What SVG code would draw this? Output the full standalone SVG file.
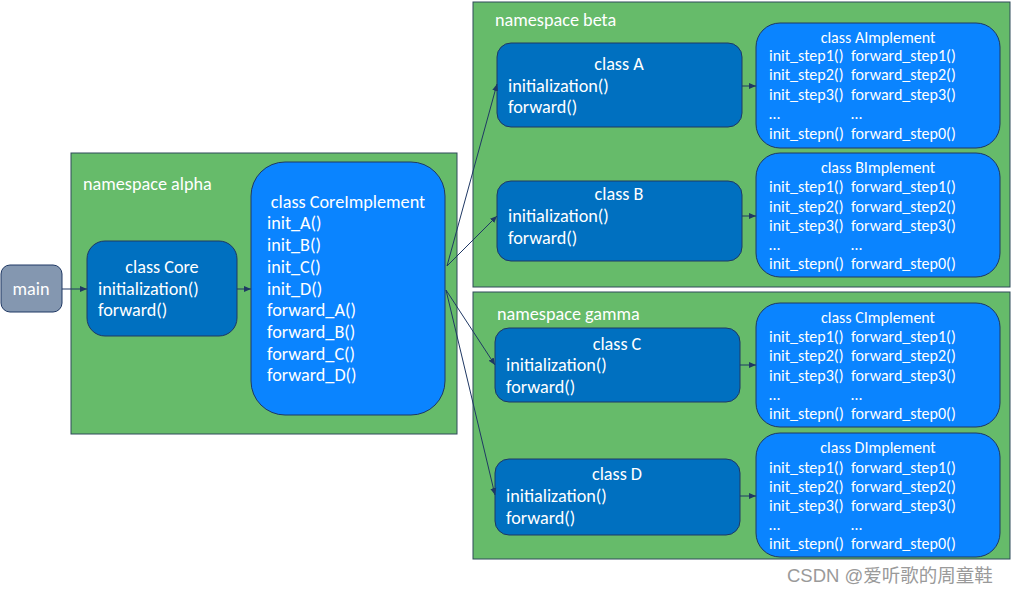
<svg xmlns="http://www.w3.org/2000/svg" width="1013" height="593" viewBox="0 0 1013 593">
<style>
.ns{fill:#66bb6a;stroke:#2f4a5a;stroke-width:1}
.cls{fill:#0070c0;stroke:#1f3864;stroke-width:1}
.impl{fill:#0a84ff;stroke:#1f3864;stroke-width:1}
.main{fill:#8497b0;stroke:#1f3864;stroke-width:1}
text{font-family:Calibri,"Carlito","Open Sans","Liberation Sans",sans-serif;fill:#fff}
.t16{font-size:18.2px}
.t14{font-size:16px}
.c{text-anchor:middle}
.conn{stroke:#1f3864;stroke-width:1;fill:none;marker-end:url(#ah)}
.wm{font-family:"Liberation Sans","Noto Sans CJK SC",sans-serif;font-size:18.5px;fill:#9a9a9a}
</style>
<defs>
<marker id="ah" markerWidth="8" markerHeight="8" refX="7" refY="4" orient="auto" markerUnits="userSpaceOnUse">
<path d="M0,1 L7,4 L0,7 z" fill="#1f3864"/>
</marker>
</defs>
<g id="ns-alpha"><rect class="ns" x="71" y="153" width="386" height="281"/><text class="t16" x="83" y="190">namespace alpha</text></g>
<g id="ns-beta"><rect class="ns" x="473" y="2" width="537" height="285"/><text class="t16" x="495" y="26">namespace beta</text></g>
<g id="ns-gamma"><rect class="ns" x="473" y="292" width="537" height="267"/><text class="t16" x="497" y="320">namespace gamma</text></g>
<g id="main"><rect class="main" x="1" y="265" width="61" height="47" rx="9"/><text class="t16 c" x="31" y="295">main</text></g>
<g id="core"><rect class="cls" x="87" y="241" width="150" height="95" rx="18"/>
<text class="t16 c" x="162" y="273">class Core</text><text class="t16" x="98" y="295">initialization()</text><text class="t16" x="98" y="316">forward()</text></g>
<g id="coreimpl"><rect class="impl" x="251" y="162" width="194" height="253" rx="34"/>
<text class="t16 c" x="348" y="208">class CoreImplement</text>
<text class="t16" x="267" y="229">init_A()</text><text class="t16" x="267" y="251">init_B()</text><text class="t16" x="267" y="273">init_C()</text><text class="t16" x="267" y="295">init_D()</text>
<text class="t16" x="267" y="316">forward_A()</text><text class="t16" x="267" y="338">forward_B()</text><text class="t16" x="267" y="360">forward_C()</text><text class="t16" x="267" y="381">forward_D()</text></g>
<g id="classA"><rect class="cls" x="497" y="43" width="245" height="84" rx="14"/>
<text class="t16 c" x="619" y="70">class A</text><text class="t16" x="508" y="92">initialization()</text><text class="t16" x="508" y="113">forward()</text></g>
<g id="classB"><rect class="cls" x="497" y="181" width="245" height="80" rx="14"/>
<text class="t16 c" x="619" y="200">class B</text><text class="t16" x="508" y="222">initialization()</text><text class="t16" x="508" y="244">forward()</text></g>
<g id="classC"><rect class="cls" x="495" y="328" width="245" height="74" rx="14"/>
<text class="t16 c" x="617" y="350">class C</text><text class="t16" x="506" y="371">initialization()</text><text class="t16" x="506" y="393">forward()</text></g>
<g id="classD"><rect class="cls" x="495" y="459" width="245" height="76" rx="14"/>
<text class="t16 c" x="617" y="480">class D</text><text class="t16" x="506" y="502">initialization()</text><text class="t16" x="506" y="524">forward()</text></g>
<g id="implA"><rect class="impl" x="756" y="23" width="244" height="125" rx="24"/>
<text class="t14 c" x="878" y="43">class AImplement</text>
<text class="t14" x="769" y="61">init_step1()</text><text class="t14" x="851" y="61">forward_step1()</text>
<text class="t14" x="769" y="80">init_step2()</text><text class="t14" x="851" y="80">forward_step2()</text>
<text class="t14" x="769" y="100">init_step3()</text><text class="t14" x="851" y="100">forward_step3()</text>
<text class="t14" x="769" y="119">…</text><text class="t14" x="851" y="119">…</text>
<text class="t14" x="769" y="139">init_stepn()</text><text class="t14" x="851" y="139">forward_step0()</text></g>
<g id="implB"><rect class="impl" x="756" y="153" width="244" height="124" rx="24"/>
<text class="t14 c" x="878" y="173">class BImplement</text>
<text class="t14" x="769" y="192">init_step1()</text><text class="t14" x="851" y="192">forward_step1()</text>
<text class="t14" x="769" y="212">init_step2()</text><text class="t14" x="851" y="212">forward_step2()</text>
<text class="t14" x="769" y="231">init_step3()</text><text class="t14" x="851" y="231">forward_step3()</text>
<text class="t14" x="769" y="250">…</text><text class="t14" x="851" y="250">…</text>
<text class="t14" x="769" y="269">init_stepn()</text><text class="t14" x="851" y="269">forward_step0()</text></g>
<g id="implC"><rect class="impl" x="756" y="303" width="244" height="124" rx="24"/>
<text class="t14 c" x="878" y="323">class CImplement</text>
<text class="t14" x="769" y="342">init_step1()</text><text class="t14" x="851" y="342">forward_step1()</text>
<text class="t14" x="769" y="361">init_step2()</text><text class="t14" x="851" y="361">forward_step2()</text>
<text class="t14" x="769" y="381">init_step3()</text><text class="t14" x="851" y="381">forward_step3()</text>
<text class="t14" x="769" y="400">…</text><text class="t14" x="851" y="400">…</text>
<text class="t14" x="769" y="419">init_stepn()</text><text class="t14" x="851" y="419">forward_step0()</text></g>
<g id="implD"><rect class="impl" x="756" y="433" width="244" height="124" rx="24"/>
<text class="t14 c" x="878" y="453">class DImplement</text>
<text class="t14" x="769" y="473">init_step1()</text><text class="t14" x="851" y="473">forward_step1()</text>
<text class="t14" x="769" y="492">init_step2()</text><text class="t14" x="851" y="492">forward_step2()</text>
<text class="t14" x="769" y="511">init_step3()</text><text class="t14" x="851" y="511">forward_step3()</text>
<text class="t14" x="769" y="530">…</text><text class="t14" x="851" y="530">…</text>
<text class="t14" x="769" y="549">init_stepn()</text><text class="t14" x="851" y="549">forward_step0()</text></g>
<g id="connectors">
<line class="conn" x1="62" y1="289" x2="87" y2="289"/>
<line class="conn" x1="237" y1="289" x2="251" y2="289"/>
<line class="conn" x1="447" y1="266" x2="497" y2="84"/>
<line class="conn" x1="447" y1="266" x2="497" y2="216"/>
<line class="conn" x1="446" y1="290" x2="495" y2="365"/>
<line class="conn" x1="446" y1="290" x2="495" y2="495"/>
<line class="conn" x1="742" y1="86" x2="756" y2="86"/>
<line class="conn" x1="742" y1="216" x2="756" y2="216"/>
<line class="conn" x1="740" y1="365" x2="756" y2="365"/>
<line class="conn" x1="740" y1="496" x2="756" y2="496"/>
</g>
<text class="wm" x="787" y="582">CSDN @爱听歌的周童鞋</text>
</svg>
